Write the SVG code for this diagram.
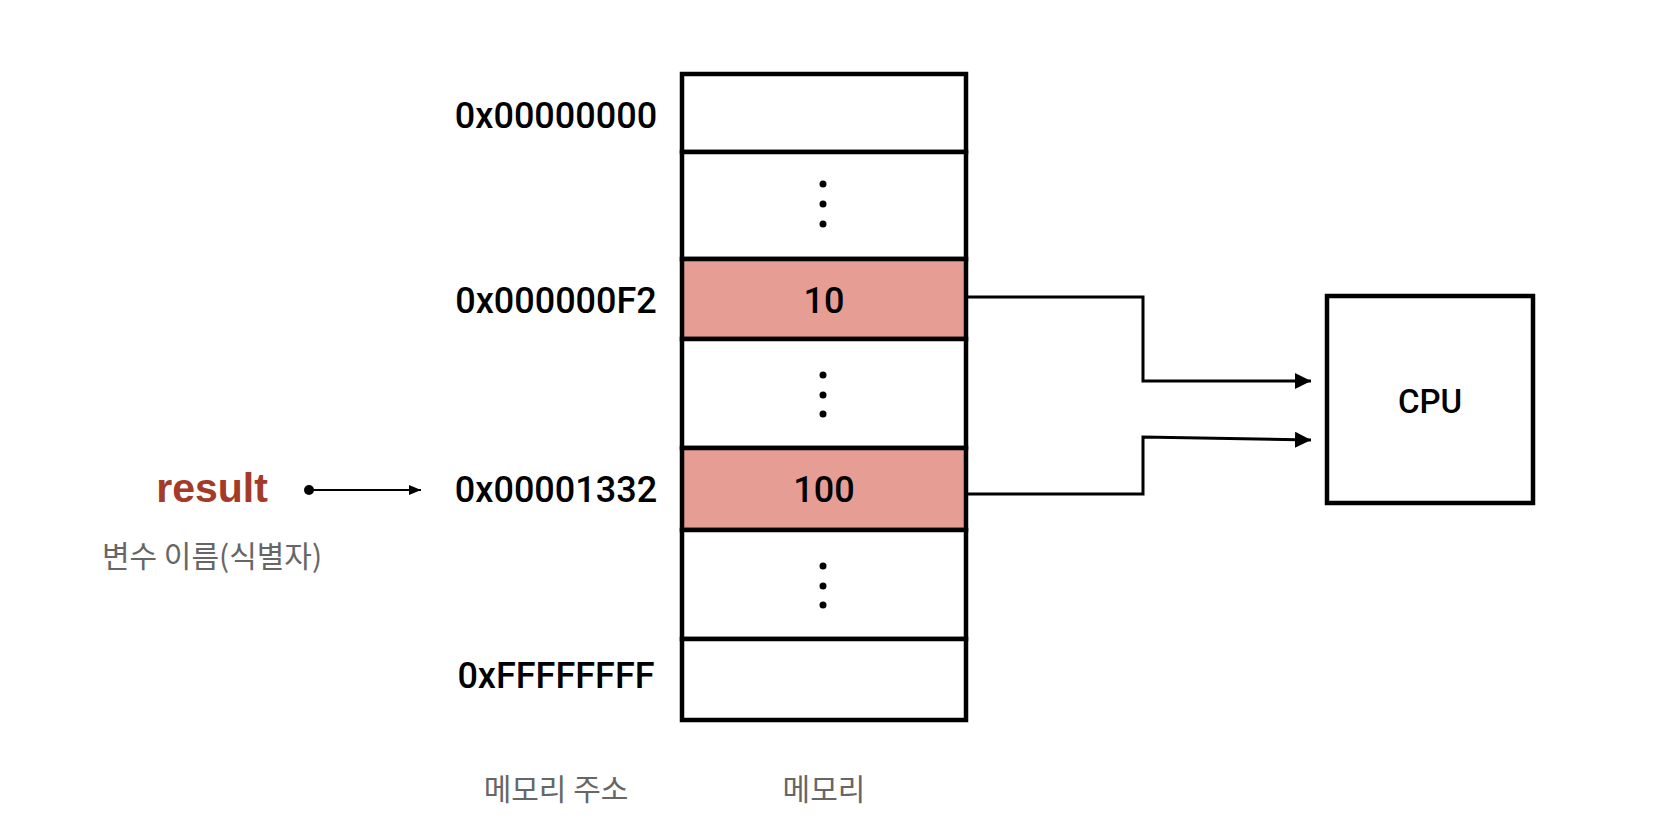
<svg xmlns="http://www.w3.org/2000/svg" width="1656" height="832" viewBox="0 0 1656 832">
<style>
.addr{font-family:Roboto,"Liberation Sans",Arial,sans-serif;font-weight:500;font-size:36px;fill:#000;text-anchor:middle}
.val{font-family:Roboto,"Liberation Sans",Arial,sans-serif;font-weight:500;font-size:36px;fill:#000;text-anchor:middle}
.cell{fill:#fff;stroke:#000;stroke-width:4.5}
.hot{fill:#E59D94;stroke:#000;stroke-width:4.5}
.dot{fill:#000}
.kr{font-family:"Noto Sans CJK KR",sans-serif;font-size:30px;fill:#666;text-anchor:middle}
.wire{fill:none;stroke:#000;stroke-width:3}
</style>
<defs>
<marker id="ah" markerWidth="16" markerHeight="16" refX="16" refY="8" orient="auto" markerUnits="userSpaceOnUse">
<path d="M0,0 L16,8 L0,16 Z" fill="#000"/>
</marker>
<marker id="ah2" markerWidth="12" markerHeight="10" refX="12" refY="5" orient="auto" markerUnits="userSpaceOnUse">
<path d="M0,0 L12,5 L0,10 Z" fill="#000"/>
</marker>
</defs>
<rect width="1656" height="832" fill="#fff"/>
<g id="memory">
<rect class="cell" x="682" y="74" width="284" height="78"/>
<rect class="cell" x="682" y="152" width="284" height="107"/>
<rect class="hot" x="682" y="259" width="284" height="80"/>
<rect class="cell" x="682" y="339" width="284" height="109"/>
<rect class="hot" x="682" y="448" width="284" height="82"/>
<rect class="cell" x="682" y="530" width="284" height="109"/>
<rect class="cell" x="682" y="639" width="284" height="81"/>
<circle class="dot" cx="823" cy="184" r="3.5"/>
<circle class="dot" cx="823" cy="204" r="3.5"/>
<circle class="dot" cx="823" cy="224" r="3.5"/>
<circle class="dot" cx="823" cy="375" r="3.5"/>
<circle class="dot" cx="823" cy="395" r="3.5"/>
<circle class="dot" cx="823" cy="414" r="3.5"/>
<circle class="dot" cx="823" cy="566" r="3.5"/>
<circle class="dot" cx="823" cy="586" r="3.5"/>
<circle class="dot" cx="823" cy="605" r="3.5"/>
<text class="val" x="824" y="313">10</text>
<text class="val" x="824" y="502">100</text>
</g>
<g id="addresses">
<text class="addr" x="556" y="128">0x00000000</text>
<text class="addr" x="556" y="313">0x000000F2</text>
<text class="addr" x="556" y="502">0x00001332</text>
<text class="addr" x="556" y="688">0xFFFFFFFF</text>
</g>
<g id="cpu">
<rect x="1327" y="296" width="206" height="207" fill="#fff" stroke="#000" stroke-width="4.5"/>
<text x="1430" y="413" font-family="Roboto,Liberation Sans,Arial,sans-serif" font-weight="500" font-size="33" text-anchor="middle" fill="#000">CPU</text>
</g>
<g id="variable">
<text x="212" y="502" font-family="Liberation Sans,Arial,sans-serif" font-weight="bold" font-size="41" text-anchor="middle" fill="#A33A2A">result</text>
<text class="kr" x="212" y="567">변수 이름(식별자)</text>
</g>
<g id="labels">
<text class="kr" x="556" y="800">메모리 주소</text>
<text class="kr" x="824" y="800">메모리</text>
</g>
<g id="connectors">
<circle cx="309" cy="490" r="5" fill="#000"/>
<line x1="309" y1="490" x2="421" y2="490" stroke="#000" stroke-width="2" marker-end="url(#ah2)"/>
<polyline class="wire" points="966,297 1143,297 1143,381 1311,381" marker-end="url(#ah)"/>
<polyline class="wire" points="966,494 1143,494 1143,437 1311,440" marker-end="url(#ah)"/>
</g>
</svg>
